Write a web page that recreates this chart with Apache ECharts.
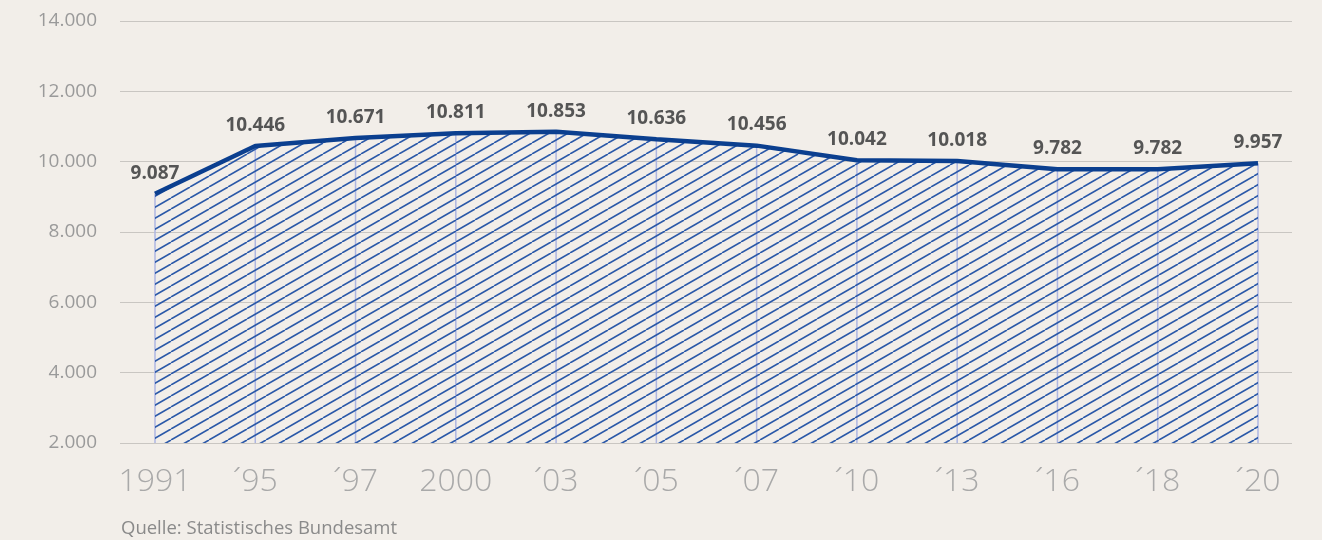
<!DOCTYPE html>
<html>
<head>
<meta charset="utf-8">
<script src="https://cdn.jsdelivr.net/npm/echarts@6/dist/echarts.min.js"></script>
<style>
  html, body { margin: 0; padding: 0; background: #f2eee9; }
  #chart { width: 1322px; height: 540px; }
</style>
</head>
<body>
<div id="chart"></div>
<script>
  // Daten
  var years = ['1991', '\u00b495', '\u00b497', '2000', '\u00b403', '\u00b405', '\u00b407', '\u00b410', '\u00b413', '\u00b416', '\u00b418', '\u00b420'];
  var values = [9087, 10446, 10671, 10811, 10853, 10636, 10456, 10042, 10018, 9782, 9782, 9957];
  var yTicks = [2000, 4000, 6000, 8000, 10000, 12000, 14000];
  var source = 'Quelle: Statistisches Bundesamt';

  function fmt(v) {
    return String(v).replace(/\B(?=(\d{3})+(?!\d))/g, '.');
  }

  // Schraffur als Muster
  var tile = document.createElement('canvas');
  tile.width = 19;
  tile.height = 11;
  var ctx = tile.getContext('2d');
  ctx.strokeStyle = '#2a58a8';
  ctx.lineWidth = 1.6;
  [-19, 0, 19].forEach(function (dx) {
    ctx.beginPath();
    ctx.moveTo(dx, 11);
    ctx.lineTo(dx + 19, 0);
    ctx.stroke();
  });

  var myChart = echarts.init(document.getElementById('chart'));
  myChart.setOption({
    backgroundColor: '#f2eee9',
    animation: false,
    textStyle: { fontFamily: 'Open Sans' },
    grid: [
      { left: 120, right: 30, top: 21, bottom: 97 },
      { left: 155, right: 64, top: 21, bottom: 97 }
    ],
    xAxis: [
      { type: 'value', gridIndex: 0, show: false, min: 0, max: 1 },
      {
        type: 'category',
        gridIndex: 1,
        data: years,
        boundaryGap: false,
        axisLine: { show: false },
        axisTick: { show: false },
        axisLabel: { fontSize: 32, color: '#a9a9a9', fontWeight: 300, margin: 23, interval: 0 }
      }
    ],
    yAxis: [
      {
        type: 'value',
        gridIndex: 0,
        min: yTicks[0],
        max: yTicks[yTicks.length - 1],
        interval: 2000,
        axisLine: { show: false },
        axisTick: { show: false },
        splitLine: { lineStyle: { color: '#c9c6c2', width: 1 } },
        axisLabel: { fontSize: 19, color: '#9a9a9a', margin: 23, formatter: fmt }
      },
      {
        type: 'value',
        gridIndex: 1,
        min: yTicks[0],
        max: yTicks[yTicks.length - 1],
        interval: 2000,
        show: false
      }
    ],
    series: [
      {
        type: 'bar',
        xAxisIndex: 1,
        yAxisIndex: 1,
        data: values,
        barWidth: 1.5,
        itemStyle: { color: '#aeb6e2' },
        z: 1,
        silent: true
      },
      {
        type: 'line',
        xAxisIndex: 1,
        yAxisIndex: 1,
        data: values,
        symbol: 'circle',
        symbolSize: 0.1,
        showSymbol: true,
        itemStyle: { color: '#0b3f8f' },
        lineStyle: { color: '#0b3f8f', width: 4.5 },
        areaStyle: { color: { image: tile, repeat: 'repeat' }, opacity: 1 },
        label: {
          show: true,
          position: 'top',
          distance: 11,
          fontSize: 19,
          fontWeight: 'bold',
          color: '#555555',
          formatter: function (p) { return fmt(p.value); }
        },
        z: 3
      }
    ],
    graphic: [
      {
        type: 'text',
        left: 121,
        top: 519,
        style: { text: source, fontSize: 18.5, fill: '#8a8a8a', fontFamily: 'Open Sans' }
      }
    ]
  });
</script>
</body>
</html>
